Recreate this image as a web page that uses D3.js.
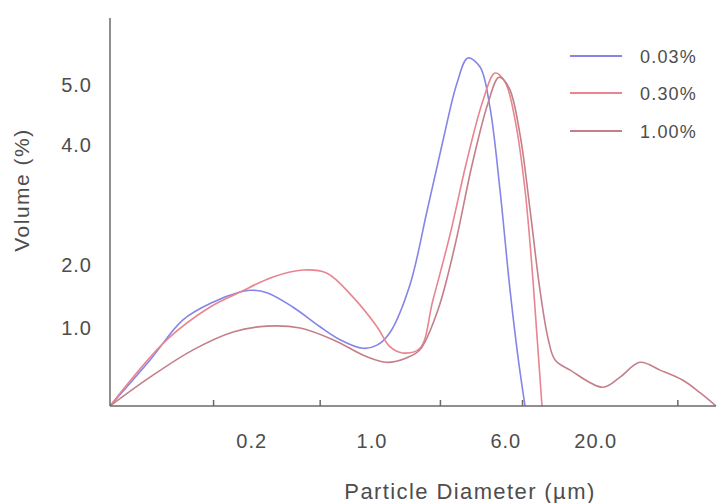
<!DOCTYPE html>
<html>
<head>
<meta charset="utf-8">
<script src="https://cdn.jsdelivr.net/npm/d3@7/dist/d3.min.js"></script>
<style>
  html, body { margin: 0; padding: 0; background: #fff; }
  svg { display: block; }
  text { font-family: "Liberation Sans", Arial, Helvetica, sans-serif; fill: #4d4d4d; }
</style>
</head>
<body>
<svg id="chart" width="718" height="503"></svg>
<script>
// ---- data ----
const seriesNames = ["0.03%", "0.30%", "1.00%"];
const seriesColors = ["#8585e8", "#e88590", "#c47f8a"];

const dia003 = [0.030, 0.0513, 0.0797, 0.119, 0.171, 0.195, 0.245, 0.348, 0.499, 0.652, 0.887, 1.07, 1.27, 1.66, 2.09, 2.59, 3.12, 3.61, 4.25, 4.85, 5.55, 6.35, 7.06, 7.76];
const vol003 = [0, 0.59, 1.13, 1.41, 1.57, 1.60, 1.56, 1.33, 1.02, 0.85, 0.74, 0.78, 0.94, 1.68, 2.90, 4.08, 5.03, 5.45, 5.30, 4.63, 3.25, 1.60, 0.63, 0];

const dia030 = [0.030, 0.0643, 0.114, 0.171, 0.266, 0.397, 0.548, 0.776, 1.07, 1.27, 1.51, 1.90, 2.26, 2.84, 3.57, 4.43, 5.19, 5.94, 6.79, 7.76, 8.63, 9.23, 9.74];
const vol030 = [0, 0.85, 1.33, 1.57, 1.81, 1.92, 1.87, 1.49, 1.02, 0.76, 0.68, 0.74, 1.44, 2.50, 3.75, 4.75, 5.20, 5.05, 4.42, 3.25, 1.76, 0.72, 0];

const dia100 = [0.030, 0.0513, 0.0912, 0.156, 0.245, 0.382, 0.594, 0.935, 1.22, 1.60, 1.90, 2.42, 3.04, 3.82, 4.73, 5.48, 6.27, 7.26, 8.30, 9.48, 10.6, 11.6, 14.2, 22.0, 27.7, 36.1, 47.3, 64.3, 80.7, 100];
const vol100 = [0, 0.37, 0.72, 0.95, 1.03, 1.00, 0.85, 0.63, 0.56, 0.62, 0.72, 1.29, 2.33, 3.67, 4.70, 5.13, 4.95, 4.17, 2.92, 1.60, 0.85, 0.59, 0.46, 0.24, 0.37, 0.56, 0.46, 0.33, 0.17, 0];

const xTickLabels = [0.2, 1.0, 6.0, 20.0];
const xTickMarks = [0.12, 0.5, 2.5, 7.5, 60];
const yTickLabels = [1.0, 2.0, 4.0, 5.0];

// ---- chart ----
const svg = d3.select("#chart");
const x = d3.scaleLog().domain([0.03, 100]).range([110, 716]);
const y = d3.scaleLinear().domain([0, 1, 2, 4, 5]).range([406, 328, 265, 145, 85]);

const series = [
  {name: seriesNames[0], color: seriesColors[0], d: dia003, v: vol003},
  {name: seriesNames[1], color: seriesColors[1], d: dia030, v: vol030},
  {name: seriesNames[2], color: seriesColors[2], d: dia100, v: vol100}
];

svg.append("defs").append("clipPath").attr("id", "plotclip")
  .append("rect").attr("x", 110).attr("y", 0).attr("width", 608).attr("height", 406);

const line = d3.line()
  .x(p => x(p[0]))
  .y(p => y(p[1]))
  .curve(d3.curveCatmullRom.alpha(0.5));

const plot = svg.append("g").attr("clip-path", "url(#plotclip)");
series.forEach(s => {
  plot.append("path")
    .datum(s.d.map((dd, i) => [dd, s.v[i]]))
    .attr("fill", "none")
    .attr("stroke", s.color)
    .attr("stroke-width", 1.6)
    .attr("stroke-linejoin", "round")
    .attr("d", line);
});

// axes
const axisColor = "#6a6a6a";
svg.append("line").attr("x1", 110).attr("x2", 110).attr("y1", 18).attr("y2", 406)
  .attr("stroke", axisColor).attr("stroke-width", 1.5);
svg.append("line").attr("x1", 110).attr("x2", 716).attr("y1", 406).attr("y2", 406)
  .attr("stroke", axisColor).attr("stroke-width", 1.5);

svg.selectAll(".xtm").data(xTickMarks).enter().append("line")
  .attr("x1", d => x(d)).attr("x2", d => x(d))
  .attr("y1", 406).attr("y2", 400)
  .attr("stroke", axisColor).attr("stroke-width", 1.5);

svg.selectAll(".xtl").data(xTickLabels).enter().append("text")
  .attr("x", d => x(d)).attr("y", 448)
  .attr("text-anchor", "middle")
  .attr("font-size", 20)
  .attr("letter-spacing", 1)
  .text(d => d.toFixed(1));

svg.selectAll(".ytl").data(yTickLabels).enter().append("text")
  .attr("x", 92).attr("y", d => y(d) + 7)
  .attr("text-anchor", "end")
  .attr("font-size", 20)
  .attr("letter-spacing", 1)
  .text(d => d.toFixed(1));

svg.append("text")
  .attr("x", 470).attr("y", 499)
  .attr("text-anchor", "middle")
  .attr("font-size", 22)
  .attr("letter-spacing", 1.4)
  .text("Particle Diameter (µm)");

svg.append("text")
  .attr("transform", "translate(29,190) rotate(-90)")
  .attr("text-anchor", "middle")
  .attr("font-size", 21)
  .attr("letter-spacing", 1.5)
  .text("Volume (%)");

// legend
const legY = [56, 93, 131];
series.forEach((s, i) => {
  svg.append("line").attr("x1", 570).attr("x2", 622)
    .attr("y1", legY[i]).attr("y2", legY[i])
    .attr("stroke", s.color).attr("stroke-width", 2);
  svg.append("text").attr("x", 640).attr("y", legY[i] + 7)
    .attr("font-size", 18)
    .attr("letter-spacing", 1.2)
    .text(s.name);
});
</script>
</body>
</html>
